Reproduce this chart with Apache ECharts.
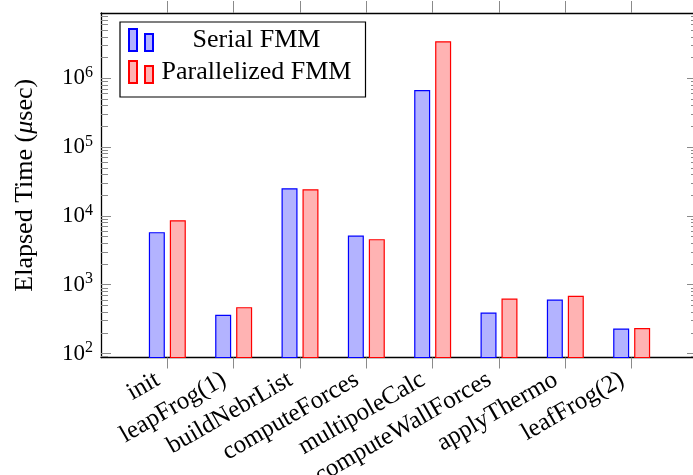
<!DOCTYPE html>
<html>
<head>
<meta charset="utf-8">
<script src="https://cdn.jsdelivr.net/npm/echarts@6/dist/echarts.min.js"></script>
<style>
  html, body { margin: 0; padding: 0; background: #fff; }
  #chart { width: 693px; height: 475px; }
</style>
</head>
<body>
<div id="chart"></div>
<script>
// Routine names along the x axis
const categories = ['init', 'leapFrog(1)', 'buildNebrList', 'computeForces',
  'multipoleCalc', 'computeWallForces', 'applyThermo', 'leafFrog(2)'];

// Elapsed time per routine, in microseconds
const serialFMM = [5800, 365, 25200, 5170, 676000, 394, 608, 231];
const parallelFMM = [8650, 472, 24400, 4590, 3450000, 629, 689, 234];

// Decade tick values on the log axis
const majorTicks = [1e2, 1e3, 1e4, 1e5, 1e6];

const yMin = 87.5;
const yMax = 8.87e6;

// Minor ticks at 2..9 of each decade that falls inside the axis range
const minorTicks = [];
for (let e = 1; e <= 6; e++) {
  for (let k = 2; k <= 9; k++) {
    const v = k * Math.pow(10, e);
    if (v >= yMin && v <= yMax) minorTicks.push(v);
  }
}

// One empty slot on each side gives the plot its side margins
const axisCats = [''].concat(categories, ['']);
const pad = arr => [null].concat(arr, [null]);

const FONT = 'Liberation Serif';
const TICK_GRAY = '#8a8a8a';

const chart = echarts.init(document.getElementById('chart'), null, { renderer: 'canvas' });

const innerTick = (vals, len) => ({
  show: true, inside: true, length: len, customValues: vals,
  lineStyle: { color: TICK_GRAY, width: 1 }
});

const logBase = {
  type: 'log', logBase: 10, min: yMin, max: yMax,
  splitLine: { show: false }, minorTick: { show: false }
};

const twoBars = 'path://M0,0 H8 V22 H0 Z M16,5 H24 V22 H16 Z';

chart.setOption({
  animation: false,
  grid: {
    left: 101, top: 13, width: 597, bottom: 117.5,
    containLabel: false, outerBoundsMode: 'none'
  },
  legend: {
    orient: 'vertical',
    left: 120, top: 22,
    padding: [5, 11, 12, 8],
    itemGap: 6,
    itemWidth: 25, itemHeight: 22,
    backgroundColor: '#fff',
    borderColor: '#000', borderWidth: 1.2,
    formatter: name => '{c|' + name + '}',
    textStyle: {
      fontFamily: FONT, fontSize: 26, color: '#000',
      rich: { c: { width: 196, align: 'center', fontFamily: FONT, fontSize: 26, lineHeight: 26, color: '#000' } }
    },
    data: [
      { name: 'Serial FMM', icon: twoBars },
      { name: 'Parallelized FMM', icon: twoBars }
    ]
  },
  xAxis: [
    {
      type: 'category', data: axisCats, boundaryGap: false, position: 'bottom',
      axisLine: { show: true, lineStyle: { color: '#000', width: 1.3 } },
      axisTick: {
        show: true, length: 11, interval: i => i > 0 && i < axisCats.length - 1,
        lineStyle: { color: TICK_GRAY, width: 1 }
      },
      axisLabel: {
        interval: 0, rotate: 30, margin: 15, padding: [0, 11, 0, 0],
        fontFamily: FONT, fontSize: 25, color: '#000'
      },
      splitLine: { show: false }
    },
    {
      type: 'category', data: axisCats, boundaryGap: false, position: 'top',
      axisLine: { show: true, lineStyle: { color: '#000', width: 1.3 } },
      axisTick: {
        show: true, length: 12, interval: i => i > 0 && i < axisCats.length - 1,
        lineStyle: { color: TICK_GRAY, width: 1 }
      },
      axisLabel: { show: false },
      splitLine: { show: false }
    }
  ],
  yAxis: [
    Object.assign({}, logBase, {
      position: 'left',
      name: '{n|Elapsed Time (}{i|μ}{n|sec)}',
      nameLocation: 'middle', nameGap: 63, nameRotate: 90,
      nameTextStyle: {
        rich: {
          n: { fontFamily: FONT, fontSize: 26, color: '#000' },
          i: { fontFamily: FONT, fontSize: 26, fontStyle: 'italic', color: '#000' }
        }
      },
      axisLine: { show: true, lineStyle: { color: '#000', width: 1.3 } },
      axisTick: innerTick(majorTicks, 10),
      axisLabel: {
        customValues: majorTicks, margin: 8,
        formatter: v => '{b|10}{s|' + Math.round(Math.log10(v)) + '}',
        rich: {
          b: { fontFamily: FONT, fontSize: 23, color: '#000' },
          s: { fontFamily: FONT, fontSize: 16, color: '#000', padding: [0, 0, 11, 0] }
        }
      }
    }),
    Object.assign({}, logBase, {
      position: 'left',
      axisLine: { show: false },
      axisTick: innerTick(minorTicks, 7),
      axisLabel: { show: false }
    }),
    Object.assign({}, logBase, {
      position: 'right',
      axisLine: { show: true, lineStyle: { color: '#000', width: 1.3 } },
      axisTick: innerTick(majorTicks, 11),
      axisLabel: { show: false }
    }),
    Object.assign({}, logBase, {
      position: 'right',
      axisLine: { show: false },
      axisTick: innerTick(minorTicks, 7),
      axisLabel: { show: false }
    })
  ],
  series: [
    {
      name: 'Serial FMM', type: 'bar', data: pad(serialFMM),
      xAxisIndex: 0, yAxisIndex: 0,
      barWidth: 16, barGap: '31%', clip: true,
      itemStyle: { color: '#b3b3ff', borderColor: '#0000ff', borderWidth: 1.2 }
    },
    {
      name: 'Parallelized FMM', type: 'bar', data: pad(parallelFMM),
      xAxisIndex: 0, yAxisIndex: 0,
      barWidth: 16, barGap: '31%', clip: true,
      itemStyle: { color: '#ffb3b3', borderColor: '#ff0000', borderWidth: 1.2 }
    }
  ]
});
</script>
</body>
</html>
